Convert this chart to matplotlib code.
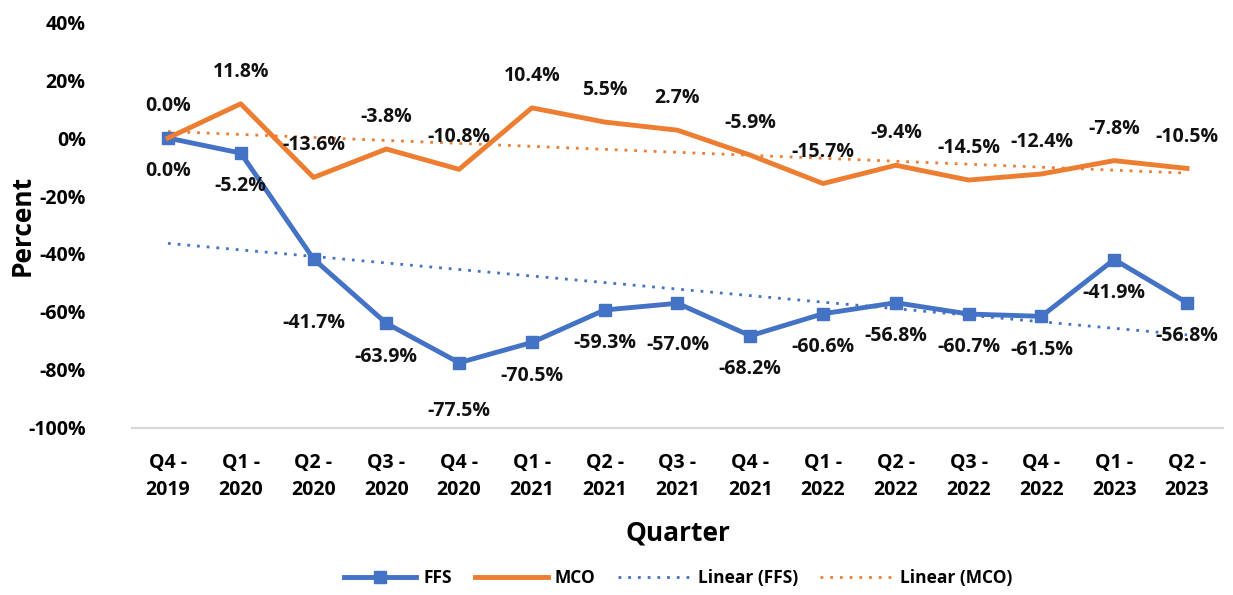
import numpy as np
import matplotlib
matplotlib.use("Agg")
import matplotlib.pyplot as plt

plt.rcParams['font.family'] = ['Open Sans', 'DejaVu Sans']
plt.rcParams['font.weight'] = 'bold'

# Data
quarters = ['Q4 -\n2019', 'Q1 -\n2020', 'Q2 -\n2020', 'Q3 -\n2020', 'Q4 -\n2020',
            'Q1 -\n2021', 'Q2 -\n2021', 'Q3 -\n2021', 'Q4 -\n2021', 'Q1 -\n2022',
            'Q2 -\n2022', 'Q3 -\n2022', 'Q4 -\n2022', 'Q1 -\n2023', 'Q2 -\n2023']
ffs = [0.0, -5.2, -41.7, -63.9, -77.5, -70.5, -59.3, -57.0, -68.2, -60.6,
       -56.8, -60.7, -61.5, -41.9, -56.8]
mco = [0.0, 11.8, -13.6, -3.8, -10.8, 10.4, 5.5, 2.7, -5.9, -15.7,
       -9.4, -14.5, -12.4, -7.8, -10.5]

blue = '#4472C4'
orange = '#ED7D31'

x = np.arange(len(quarters))

fig = plt.figure(figsize=(12.33, 5.95), dpi=100)
ax = fig.add_axes([0.1067, 0.2807, 0.8855, 0.6823])

ax.plot(x, ffs, color=blue, lw=3.5, marker='s', markersize=8.5, label='FFS', zorder=3)
ax.plot(x, mco, color=orange, lw=3.5, label='MCO', zorder=3)

# linear trend lines
pf = np.polyfit(x, ffs, 1)
pm = np.polyfit(x, mco, 1)
ax.plot(x, np.polyval(pf, x), color=blue, lw=2, ls=(0, (1, 2.5)), label='Linear (FFS)', zorder=2)
ax.plot(x, np.polyval(pm, x), color=orange, lw=2, ls=(0, (1, 2.5)), label='Linear (MCO)', zorder=2)

# data labels (offsets in points)
ffs_extra = {2: -22, 4: -11, 7: -6}
for i, v in enumerate(ffs):
    ax.annotate(f'{v:.1f}%', (i, v), xytext=(0, -24 + ffs_extra.get(i, 0)),
                textcoords='offset points', ha='center', va='center',
                fontsize=14, fontweight='bold', color='#111111')
for i, v in enumerate(mco):
    ax.annotate(f'{v:.1f}%', (i, v), xytext=(0, 23), textcoords='offset points',
                ha='center', va='center', fontsize=14, fontweight='bold', color='#111111')

ax.set_xlim(-0.5, len(quarters) - 0.5)
ax.set_ylim(-100, 40)
ax.set_yticks(np.arange(-100, 41, 20))
ax.set_yticklabels([f'{t}%' for t in range(-100, 41, 20)], fontsize=14, fontweight='bold')
ax.set_xticks(x)
ax.set_xticklabels(quarters, fontsize=14, fontweight='bold', linespacing=1.45)
ax.tick_params(length=0)
ax.tick_params(axis='x', pad=18)
ax.tick_params(axis='y', pad=33)

for s in ['top', 'right', 'left']:
    ax.spines[s].set_visible(False)
ax.spines['bottom'].set_color('#D9D9D9')
ax.spines['bottom'].set_linewidth(1.5)

ax.set_xlabel('Quarter', fontsize=19, fontweight='bold', labelpad=14)
ax.set_ylabel('Percent', fontsize=19, fontweight='bold', va='center')
ax.yaxis.set_label_coords(-0.1, 0.5)

fig.legend(loc='center', bbox_to_anchor=(0.55, 0.028), ncol=4, frameon=False,
           prop={'size': 12.5, 'weight': 'bold'}, handlelength=4.2, columnspacing=1.3,
           handletextpad=0.4)

fig.savefig('out.png', dpi=100)
